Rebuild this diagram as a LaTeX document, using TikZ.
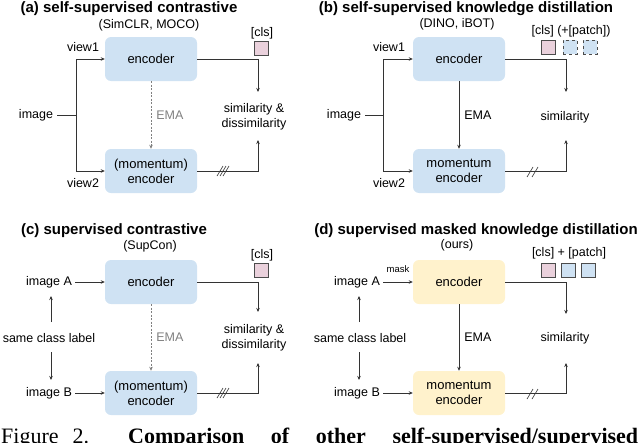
\documentclass[tikz,border=0pt]{standalone}
\usepackage{fontspec}
\setmainfont{Liberation Sans}
\newfontfamily\capfont{Liberation Serif}
\usetikzlibrary{arrows.meta}
\definecolor{encblue}{HTML}{CFE2F3}
\definecolor{encyel}{HTML}{FFF2CC}
\definecolor{clspink}{HTML}{EAD1DC}
\begin{document}
\begin{tikzpicture}[x=1pt,y=-1pt,
  box/.style={draw=none,rounded corners=6pt,minimum width=92pt,minimum height=44pt,align=center,font=\fontsize{13}{15}\selectfont,inner sep=0pt},
  lbl/.style={font=\fontsize{12.5}{15}\selectfont,align=center,inner sep=1pt},
  ttl/.style={font=\bfseries\fontsize{15}{17}\selectfont,inner sep=0pt},
  sub/.style={font=\fontsize{12.5}{14}\selectfont,inner sep=0pt},
  sq/.style={draw=black!70,minimum size=14pt,inner sep=0pt,line width=0.7pt},
  ln/.style={draw=black!80,line width=0.7pt},
  arr/.style={ln,-{Stealth[length=4pt,width=3.5pt]}},
  ema/.style={draw=gray,line width=0.7pt,dash pattern=on 2pt off 1.5pt,-{Stealth[length=4pt,width=3.5pt]}},
  sl/.style={draw=black!80,line width=0.6pt},
  captxt/.style={anchor=base west,inner sep=0pt,font=\capfont\fontsize{22}{24}\selectfont}]
\useasboundingbox (0,0) rectangle (640,442);
% ---------- (a)
\node[ttl] (ta) at (129,9) {(a) self-supervised contrastive};
\node[sub] (sa) at (149,25) {(SimCLR, MOCO)};
\node[box,fill=encblue] (ea) at (151,59) {encoder};
\node[box,fill=encblue] (ma) at (151,171) {(momentum)\\encoder};
\node[lbl] (ia) at (36,115) {image};
\coordinate (ja) at (76,115);
\node[lbl] (v1a) at (83,47) {view1};
\node[lbl] (v2a) at (83,183) {view2};
\node[lbl] (sima) at (254,117) {similarity \&\\dissimilarity};
\coordinate (ta1) at (258,92);
\coordinate (ta2) at (258,140);
\node[sub] (cla) at (262,33) {[cls]};
\node[sq,fill=clspink] (qa) at (261,48) {};
\draw[ln,line width=1pt] (ia.east)++(3,0) -- (ja);
\draw[arr] (ja) |- (ea.west);
\draw[arr] (ja) |- (ma.west);
\draw[arr] (ea.east) -| (ta1);
\draw[arr] (ma.east) -| (ta2);
\draw[ema] (ea.south) -- node[right,lbl,text=gray,xshift=4pt]{EMA} (ma.north);
\draw[sl] (217,176)--(223,166) (220,176)--(226,166) (223,176)--(229,166);
% ---------- (b)
\node[ttl] (tb) at (466,9) {(b) self-supervised knowledge distillation};
\node[sub] (sb) at (457,24) {(DINO, iBOT)};
\node[box,fill=encblue] (eb) at (459,59) {encoder};
\node[box,fill=encblue] (mb) at (459,171) {momentum\\encoder};
\node[lbl] (ib) at (344,115) {image};
\coordinate (jb) at (383,115);
\node[lbl] (v1b) at (389,47) {view1};
\node[lbl] (v2b) at (389,183) {view2};
\node[lbl] (simb) at (565,117) {similarity};
\coordinate (tb1) at (566,92);
\coordinate (tb2) at (566,140);
\node[sub] (clb) at (571,31) {[cls] (+[patch])};
\node[sq,fill=clspink] (qb1) at (548,47) {};
\node[sq,fill=encblue,dashed] (qb2) at (570,47) {};
\node[sq,fill=encblue,dashed] (qb3) at (590,47) {};
\draw[ln,line width=1pt] (ib.east)++(3,0) -- (jb);
\draw[arr] (jb) |- (eb.west);
\draw[arr] (jb) |- (mb.west);
\draw[arr] (eb.east) -| (tb1);
\draw[arr] (mb.east) -| (tb2);
\draw[arr] (eb.south) -- node[right,lbl,xshift=4pt]{EMA} (mb.north);
\draw[sl] (527,177)--(533,167) (532,177)--(538,167);
% ---------- (c)
\node[ttl] (tc) at (114,231) {(c) supervised contrastive};
\node[sub] (sc) at (150,246) {(SupCon)};
\node[box,fill=encblue] (ec) at (151,282) {encoder};
\node[box,fill=encblue] (mc) at (151,393) {(momentum)\\encoder};
\node[lbl] (iac) at (49,282) {image A};
\node[lbl] (scl) at (49,338) {same class label};
\node[lbl] (ibc) at (49,393) {image B};
\coordinate (uc1) at (51,322); \coordinate (uc2) at (51,296);
\coordinate (dc1) at (51,352); \coordinate (dc2) at (51,380);
\node[lbl] (simc) at (254,338) {similarity \&\\dissimilarity};
\coordinate (tc1) at (258,312);
\coordinate (tc2) at (258,363);
\node[sub] (clc) at (262,255) {[cls]};
\node[sq,fill=clspink] (qc) at (261,270) {};
\draw[arr] (iac.east) ++(2,0) -- (ec.west);
\draw[arr] (ibc.east) ++(2,0) -- (mc.west);
\draw[arr] (uc1) -- (uc2);
\draw[arr] (dc1) -- (dc2);
\draw[arr] (ec.east) -| (tc1);
\draw[arr] (mc.east) -| (tc2);
\draw[ema] (ec.south) -- node[right,lbl,text=gray,xshift=4pt]{EMA} (mc.north);
\draw[sl] (217,398)--(223,388) (220,398)--(226,388) (223,398)--(229,388);
% ---------- (d)
\node[ttl] (td) at (476,231) {(d) supervised masked knowledge distillation};
\node[sub] (sd) at (457,245) {(ours)};
\node[box,fill=encyel] (ed) at (459,282) {encoder};
\node[box,fill=encyel] (md) at (459,393) {momentum\\encoder};
\node[lbl] (iad) at (357,282) {image A};
\node[font=\fontsize{9.5}{11}\selectfont] (mk) at (398,269) {mask};
\node[lbl] (scd) at (360,338) {same class label};
\node[lbl] (ibd) at (357,393) {image B};
\coordinate (ud1) at (359,322); \coordinate (ud2) at (359,296);
\coordinate (dd1) at (359,352); \coordinate (dd2) at (359,380);
\node[lbl] (simd) at (565,338) {similarity};
\coordinate (td1) at (566,314);
\coordinate (td2) at (566,363);
\node[sub] (cld) at (569,253) {[cls] + [patch]};
\node[sq,fill=clspink] (qd1) at (548,270) {};
\node[sq,fill=encblue] (qd2) at (568,270) {};
\node[sq,fill=encblue] (qd3) at (588,270) {};
\draw[arr] (iad.east) ++(2,0) -- (ed.west);
\draw[arr] (ibd.east) ++(2,0) -- (md.west);
\draw[arr] (ud1) -- (ud2);
\draw[arr] (dd1) -- (dd2);
\draw[arr] (ed.east) -| (td1);
\draw[arr] (md.east) -| (td2);
\draw[arr] (ed.south) -- node[right,lbl,xshift=4pt]{EMA} (md.north);
\draw[sl] (527,399)--(533,389) (532,399)--(538,389);
% ---------- caption
\node[captxt] (cap1) at (1,443) {\makebox[88pt][s]{Figure 2.}};
\node[captxt] (cap2) at (128,443) {\makebox[510pt][s]{\textbf{Comparison of other self-supervised/supervised}}};
\end{tikzpicture}
\end{document}
